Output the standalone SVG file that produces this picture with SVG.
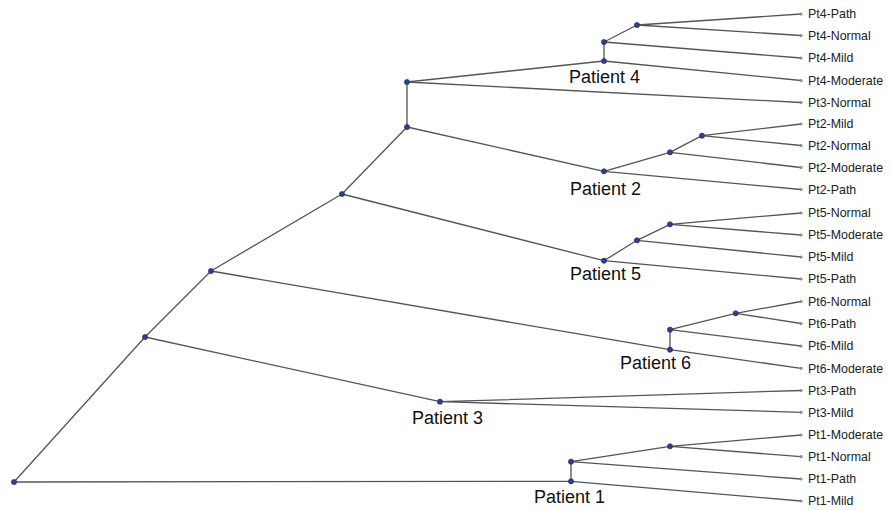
<svg xmlns="http://www.w3.org/2000/svg" width="891" height="510" viewBox="0 0 891 510">
<style>
.e{stroke:#555;stroke-width:1.3;fill:none}
.n{fill:#2f3f8f;stroke:#1f2a60;stroke-width:0.6}
.lf{fill:#8a8a8a}
.lt{font-family:"Liberation Sans",Arial,sans-serif;font-size:12.4px;fill:#222}
.pt{font-family:"Liberation Sans",Arial,sans-serif;font-size:18px;fill:#111}
</style>
<rect width="891" height="510" fill="#fff"/>
<g id="connectors">
<path class="e" d="M14,482L145,337M14,482L571,481.3"/>
<path class="e" d="M145,337L211,271M145,337L440,401.7"/>
<path class="e" d="M211,271L342,194M211,271L670,349.7"/>
<path class="e" d="M342,194L407,127M342,194L604,260.7"/>
<path class="e" d="M407,127L407,82M407,127L604,171.3"/>
<path class="e" d="M407,82L604,61M407,82L801,102.5"/>
<path class="e" d="M604,61L604,42M604,61L801,80.5"/>
<path class="e" d="M604,42L637,25M604,42L801,58"/>
<path class="e" d="M637,25L801,14M637,25L801,35.5"/>
<path class="e" d="M604,171.3L670,152.3M604,171.3L801,189.5"/>
<path class="e" d="M670,152.3L702,135.7M670,152.3L801,167.5"/>
<path class="e" d="M702,135.7L801,124M702,135.7L801,145.5"/>
<path class="e" d="M604,260.7L637,240.3M604,260.7L801,279"/>
<path class="e" d="M637,240.3L670,224.3M637,240.3L801,257"/>
<path class="e" d="M670,224.3L801,213M670,224.3L801,235"/>
<path class="e" d="M670,349.7L670,329.7M670,349.7L801,368.3"/>
<path class="e" d="M670,329.7L735.7,313.3M670,329.7L801,346"/>
<path class="e" d="M735.7,313.3L801,301.5M735.7,313.3L801,323.5"/>
<path class="e" d="M440,401.7L801,390.5M440,401.7L801,412.3"/>
<path class="e" d="M571,481.3L571,461.7M571,481.3L801,501"/>
<path class="e" d="M571,461.7L670,446.3M571,461.7L801,479"/>
<path class="e" d="M670,446.3L801,435M670,446.3L801,456.7"/>
</g>
<g id="root"><circle class="n" cx="14" cy="482" r="2.6"/></g>
<g id="nodeA"><circle class="n" cx="145" cy="337" r="2.6"/></g>
<g id="nodeB"><circle class="n" cx="211" cy="271" r="2.6"/></g>
<g id="nodeC"><circle class="n" cx="342" cy="194" r="2.6"/></g>
<g id="nodeD"><circle class="n" cx="407" cy="127" r="2.6"/></g>
<g id="nodeE"><circle class="n" cx="407" cy="82" r="2.6"/></g>
<g id="patient4"><circle class="n" cx="604" cy="61" r="2.6"/><text class="pt" x="569" y="83">Patient 4</text></g>
<g id="p4a"><circle class="n" cx="604" cy="42" r="2.6"/></g>
<g id="p4b"><circle class="n" cx="637" cy="25" r="2.6"/></g>
<g id="patient2"><circle class="n" cx="604" cy="171.3" r="2.6"/><text class="pt" x="570" y="195">Patient 2</text></g>
<g id="p2a"><circle class="n" cx="670" cy="152.3" r="2.6"/></g>
<g id="p2b"><circle class="n" cx="702" cy="135.7" r="2.6"/></g>
<g id="patient5"><circle class="n" cx="604" cy="260.7" r="2.6"/><text class="pt" x="570" y="280">Patient 5</text></g>
<g id="p5a"><circle class="n" cx="637" cy="240.3" r="2.6"/></g>
<g id="p5b"><circle class="n" cx="670" cy="224.3" r="2.6"/></g>
<g id="patient6"><circle class="n" cx="670" cy="349.7" r="2.6"/><text class="pt" x="620" y="369.3">Patient 6</text></g>
<g id="p6a"><circle class="n" cx="670" cy="329.7" r="2.6"/></g>
<g id="p6b"><circle class="n" cx="735.7" cy="313.3" r="2.6"/></g>
<g id="patient3"><circle class="n" cx="440" cy="401.7" r="2.6"/><text class="pt" x="412" y="424.3">Patient 3</text></g>
<g id="patient1"><circle class="n" cx="571" cy="481.3" r="2.6"/><text class="pt" x="534" y="503.3">Patient 1</text></g>
<g id="p1a"><circle class="n" cx="571" cy="461.7" r="2.6"/></g>
<g id="p1b"><circle class="n" cx="670" cy="446.3" r="2.6"/></g>
<g id="leaf-pt4-path"><circle class="lf" cx="801" cy="14" r="1.6"/><text class="lt" x="808" y="18.2">Pt4-Path</text></g>
<g id="leaf-pt4-normal"><circle class="lf" cx="801" cy="35.5" r="1.6"/><text class="lt" x="808" y="39.7">Pt4-Normal</text></g>
<g id="leaf-pt4-mild"><circle class="lf" cx="801" cy="58" r="1.6"/><text class="lt" x="808" y="62.2">Pt4-Mild</text></g>
<g id="leaf-pt4-moderate"><circle class="lf" cx="801" cy="80.5" r="1.6"/><text class="lt" x="808" y="84.7">Pt4-Moderate</text></g>
<g id="leaf-pt3-normal"><circle class="lf" cx="801" cy="102.5" r="1.6"/><text class="lt" x="808" y="106.7">Pt3-Normal</text></g>
<g id="leaf-pt2-mild"><circle class="lf" cx="801" cy="124" r="1.6"/><text class="lt" x="808" y="128.2">Pt2-Mild</text></g>
<g id="leaf-pt2-normal"><circle class="lf" cx="801" cy="145.5" r="1.6"/><text class="lt" x="808" y="149.7">Pt2-Normal</text></g>
<g id="leaf-pt2-moderate"><circle class="lf" cx="801" cy="167.5" r="1.6"/><text class="lt" x="808" y="171.7">Pt2-Moderate</text></g>
<g id="leaf-pt2-path"><circle class="lf" cx="801" cy="189.5" r="1.6"/><text class="lt" x="808" y="193.7">Pt2-Path</text></g>
<g id="leaf-pt5-normal"><circle class="lf" cx="801" cy="213" r="1.6"/><text class="lt" x="808" y="217.2">Pt5-Normal</text></g>
<g id="leaf-pt5-moderate"><circle class="lf" cx="801" cy="235" r="1.6"/><text class="lt" x="808" y="239.2">Pt5-Moderate</text></g>
<g id="leaf-pt5-mild"><circle class="lf" cx="801" cy="257" r="1.6"/><text class="lt" x="808" y="261.2">Pt5-Mild</text></g>
<g id="leaf-pt5-path"><circle class="lf" cx="801" cy="279" r="1.6"/><text class="lt" x="808" y="283.2">Pt5-Path</text></g>
<g id="leaf-pt6-normal"><circle class="lf" cx="801" cy="301.5" r="1.6"/><text class="lt" x="808" y="305.7">Pt6-Normal</text></g>
<g id="leaf-pt6-path"><circle class="lf" cx="801" cy="323.5" r="1.6"/><text class="lt" x="808" y="327.7">Pt6-Path</text></g>
<g id="leaf-pt6-mild"><circle class="lf" cx="801" cy="346" r="1.6"/><text class="lt" x="808" y="350.2">Pt6-Mild</text></g>
<g id="leaf-pt6-moderate"><circle class="lf" cx="801" cy="368.3" r="1.6"/><text class="lt" x="808" y="372.5">Pt6-Moderate</text></g>
<g id="leaf-pt3-path"><circle class="lf" cx="801" cy="390.5" r="1.6"/><text class="lt" x="808" y="394.7">Pt3-Path</text></g>
<g id="leaf-pt3-mild"><circle class="lf" cx="801" cy="412.3" r="1.6"/><text class="lt" x="808" y="416.5">Pt3-Mild</text></g>
<g id="leaf-pt1-moderate"><circle class="lf" cx="801" cy="435" r="1.6"/><text class="lt" x="808" y="439.2">Pt1-Moderate</text></g>
<g id="leaf-pt1-normal"><circle class="lf" cx="801" cy="456.7" r="1.6"/><text class="lt" x="808" y="460.9">Pt1-Normal</text></g>
<g id="leaf-pt1-path"><circle class="lf" cx="801" cy="479" r="1.6"/><text class="lt" x="808" y="483.2">Pt1-Path</text></g>
<g id="leaf-pt1-mild"><circle class="lf" cx="801" cy="501" r="1.6"/><text class="lt" x="808" y="505.2">Pt1-Mild</text></g>
</svg>
